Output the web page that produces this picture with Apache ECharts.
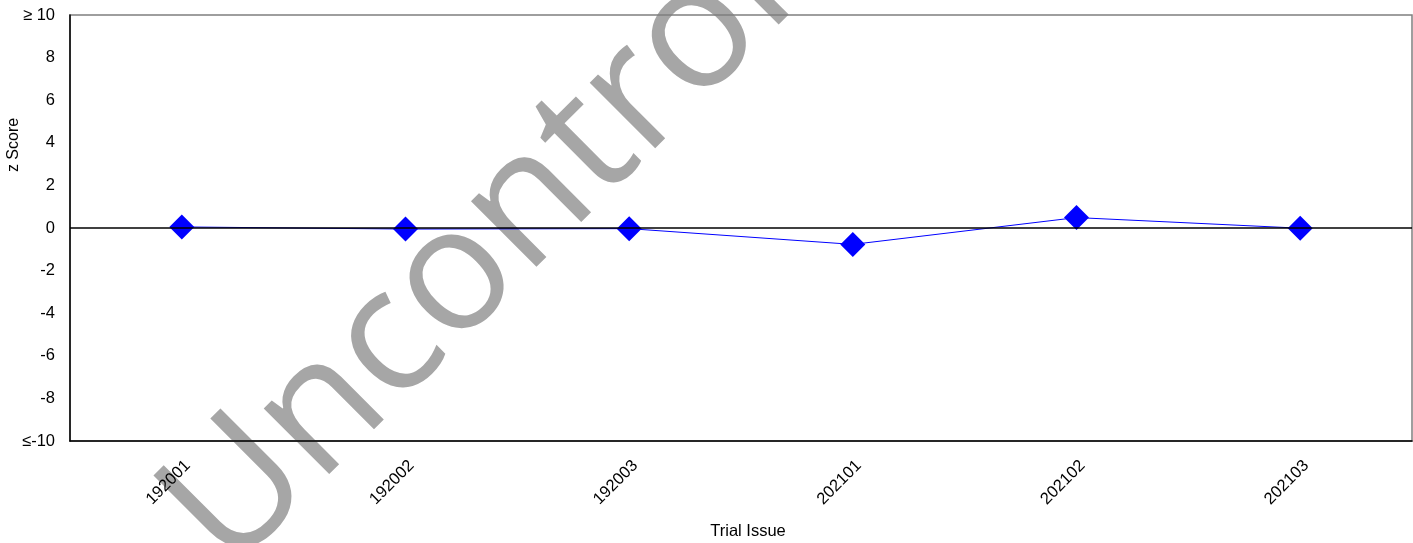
<!DOCTYPE html>
<html>
<head>
<meta charset="utf-8">
<script src="https://cdn.jsdelivr.net/npm/echarts@6/dist/echarts.min.js"></script>
<style>
  html, body { margin: 0; padding: 0; background: #fff; }
  #chart { width: 1413px; height: 543px; }
</style>
</head>
<body>
<div id="chart"></div>
<script>
// 试验批次
var issues = ['192001', '192002', '192003', '202101', '202102', '202103'];
// z 分数
var zScores = [0.05, -0.05, -0.03, -0.77, 0.49, -0.01];
// y 轴刻度标签
var yTickLabels = { '10': '\u2265 10', '-10': '\u2264-10' };

var chart = echarts.init(document.getElementById('chart'));
var font = 'Liberation Sans, Arial, sans-serif';

chart.setOption({
    animation: false,
    grid: {
        left: 70, right: 1, top: 15, bottom: 102,
        show: true, borderColor: '#7f7f7f', borderWidth: 1.5
    },
    graphic: [
        {   // 水印
            type: 'text',
            x: 256, y: 600,
            rotation: Math.PI / 4,
            z: -10,
            silent: true,
            style: {
                text: 'Uncontrolled',
                fontFamily: 'Open Sans',
                fontSize: 173,
                fill: '#a6a6a6',
                align: 'left',
                verticalAlign: 'bottom'
            }
        },
        {
            type: 'text',
            x: 14, y: 145,
            rotation: Math.PI / 2,
            style: {
                text: 'z Score',
                fontFamily: font,
                fontSize: 16,
                fill: '#000',
                align: 'center',
                verticalAlign: 'middle'
            }
        },
        {
            type: 'text',
            x: 748, y: 531,
            style: {
                text: 'Trial Issue',
                fontFamily: font,
                fontSize: 16.5,
                fill: '#000',
                align: 'center',
                verticalAlign: 'middle'
            }
        }
    ],
    xAxis: {
        type: 'category',
        data: issues,
        boundaryGap: true,
        axisLine: { onZero: false, lineStyle: { color: '#000', width: 1.5 } },
        axisTick: { show: false },
        axisLabel: {
            rotate: 45, fontFamily: font, fontSize: 16.5, color: '#000',
            margin: 16, verticalAlign: 'top'
        },
        splitLine: { show: false }
    },
    yAxis: {
        type: 'value',
        min: -10, max: 10, interval: 2,
        axisLine: { show: true, lineStyle: { color: '#000', width: 1.5 } },
        axisTick: { show: false },
        axisLabel: {
            fontFamily: font, fontSize: 16.5, color: '#000', margin: 15,
            formatter: function (v) { return yTickLabels[v] || String(v); }
        },
        splitLine: { show: false }
    },
    series: [{
        type: 'line',
        data: zScores,
        symbol: 'diamond',
        symbolSize: 25,
        lineStyle: { color: '#0000ff', width: 1 },
        itemStyle: { color: '#0000ff' },
        markLine: {
            silent: true,
            symbol: 'none',
            label: { show: false },
            lineStyle: { color: '#000', width: 1.5, type: 'solid' },
            data: [{ yAxis: 0 }]
        }
    }]
});
</script>
</body>
</html>
